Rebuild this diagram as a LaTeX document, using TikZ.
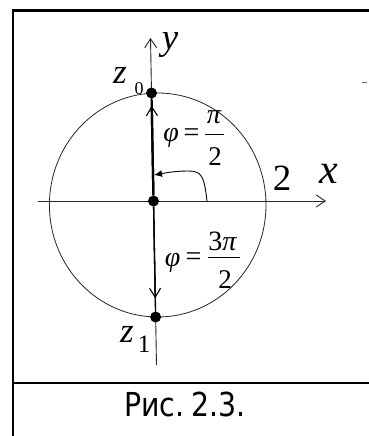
\documentclass[tikz,border=0pt]{standalone}
\usepackage{fontspec}
\setmainfont{Liberation Serif}
\newfontfamily\capfont[FakeStretch=0.86]{DejaVu Sans}
\usetikzlibrary{arrows.meta}
\newcommand\ffs[1]{\fontsize{#1}{#1}\selectfont}
\begin{document}
\begin{tikzpicture}[x=1pt,y=-1pt,
  frameline/.style={line width=2.2pt, line join=miter},
  axisline/.style={line width=0.9pt, draw=black!85,
    -{Straight Barb[length=9pt,width=12pt,line width=0.9pt]}},
  circ/.style={line width=0.8pt, draw=black!85},
  dotnode/.style={circle, fill=black, inner sep=0pt, minimum size=11pt},
  vecthick/.style={line width=2.2pt},
  vecthin/.style={line width=1.3pt},
  barb/.style={-{Straight Barb[length=9pt,width=11pt,line width=1.1pt]}},
  lbl/.style={inner sep=0pt, anchor=base},
  bar/.style={line width=1pt}
]
\useasboundingbox (0,0) rectangle (369,436);
% frame
\draw[frameline] (13,436) -- (13,10.5) -- (369,10.5);
\draw[frameline] (13,383) -- (369,383);
\draw[black!60, line width=1pt] (362,82) -- (367,82);

% axes
\coordinate (xl) at (38,201);
\coordinate (xr) at (326,201);
\coordinate (yb) at (156.5,365);
\coordinate (yt) at (150.5,38);
\draw[axisline] (xl) -- (xr);
\draw[axisline] (yb) -- (yt);

% circle
\draw[circ] (157.7,205) ellipse [x radius=108.3, y radius=112];

% dots
\node[dotnode] (z0) at (151.5,93) {};
\node[dotnode] (o) at (153.5,201) {};
\node[dotnode] (z1) at (155.6,317) {};

% vectors
\draw[vecthick] (o) -- (z0);
\draw[vecthick, barb, shorten >=7pt] (o) -- (z0);
\draw[vecthin] (o) -- (z1);
\draw[vecthin, barb, shorten >=13pt] (o) -- (z1);

% angle arc
\coordinate (a0) at (207,201);
\coordinate (a1) at (154,175);
\draw[line width=0.9pt, -{Latex[length=8pt,width=7pt]}] (a0) .. controls (204,176) and (202,171) .. (188,171) .. controls (175,171) and (165,173) .. (a1);

% labels
\node[lbl, font=\ffs{37}\itshape] (ylab) at (170,49) {y};
\node[lbl, font=\ffs{35}\itshape] (z0lab) at (120,83) {z};
\node[lbl, font=\ffs{18}] (z0sub) at (139,94) {0};
\node[lbl, font=\ffs{35}\itshape] (z1lab) at (127,342) {z};
\node[lbl, font=\ffs{25}] (z1sub) at (144,352) {1};
\node[lbl, font=\ffs{37}] (two) at (282,190) {2};
\node[lbl, font=\ffs{42}\itshape] (xlab) at (329,183) {x};

% phi = pi/2
\node[lbl, font=\ffs{28}\itshape] (phi1) at (171,141) {φ};
\node[inner sep=0pt, font=\ffs{28}] (eq1) at (191.5,135) {=};
\draw[bar] (205,134) -- (224,134);
\node[lbl, font=\ffs{28}\itshape] (pi1) at (214,123) {π};
\node[lbl, font=\ffs{27}] (d1) at (215,165) {2};

% phi = 3pi/2
\node[lbl, font=\ffs{28}\itshape] (phi2) at (172.5,266) {φ};
\node[inner sep=0pt, font=\ffs{28}] (eq2) at (193.5,259.5) {=};
\draw[bar] (208,257) -- (240,257);
\node[lbl, font=\ffs{28}] (n2) at (222.5,250) {3\itshape π};
\node[lbl, font=\ffs{27}] (d2) at (225,288) {2};

% caption
\node[lbl, font=\capfont\ffs{33}] (cap) at (185,416) {Рис.\hspace{0.22em}2.3.};
\end{tikzpicture}
\end{document}
